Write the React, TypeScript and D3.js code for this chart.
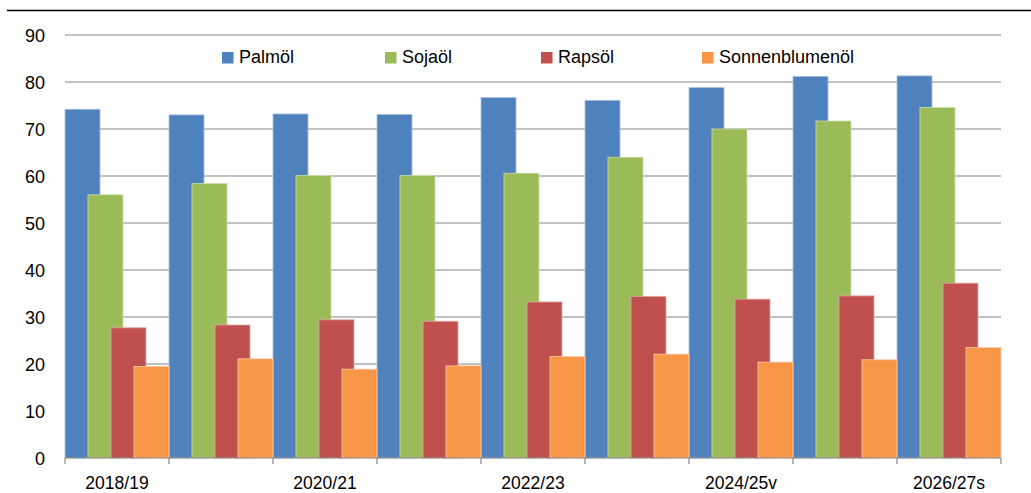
import React, { useRef, useEffect } from 'react';
import * as d3 from 'd3';

const categories = ['2018/19', '2019/20', '2020/21', '2021/22', '2022/23', '2023/24', '2024/25v', '2025/26v', '2026/27s'];
const shownLabels = ['2018/19', '2020/21', '2022/23', '2024/25v', '2026/27s'];
const seriesNames = ['Palmöl', 'Sojaöl', 'Rapsöl', 'Sonnenblumenöl'];
const palmoel = [74.2, 73.0, 73.2, 73.1, 76.7, 76.1, 78.8, 81.2, 81.3];
const sojaoel = [56.0, 58.4, 60.1, 60.1, 60.6, 64.0, 70.0, 71.7, 74.6];
const rapsoel = [27.7, 28.3, 29.4, 29.1, 33.2, 34.4, 33.8, 34.5, 37.2];
const sonnenblumenoel = [19.5, 21.1, 18.9, 19.6, 21.6, 22.1, 20.4, 20.9, 23.5];
const yTicks = [0, 10, 20, 30, 40, 50, 60, 70, 80, 90];
const colors = ['#4F81BD', '#9BBB59', '#C0504D', '#F79646'];
const strokes = ['#A7C0DE', '#CDDDAC', '#E0A8A6', '#FBCBA3'];

const App = () => {
  const chartRef = useRef(null);

  useEffect(() => {
    document.body.style.margin = '0';
    const svg = d3.select(chartRef.current);
    svg.selectAll('*').remove();
    const font = 'Liberation Sans, Arial, sans-serif';
    const fs = 18;
    const left = 65, right = 1001, top = 35, bottom = 458;

    const x = d3.scaleBand().domain(categories).range([left, right]).padding(0);
    const bw = x.bandwidth();
    const inner = d3.scalePoint().domain(seriesNames).range([0, bw * 69 / 104]);
    const barW = bw * 35 / 104;
    const y = d3.scaleLinear().domain([0, 90]).range([bottom, top]);

    // top rule
    svg.append('line')
      .attr('x1', 7).attr('x2', 1031).attr('y1', 10.5).attr('y2', 10.5)
      .attr('stroke', '#000').attr('stroke-width', 1.5);

    // grid
    svg.append('g').selectAll('line')
      .data(yTicks.filter(d => d > 0))
      .enter().append('line')
      .attr('x1', left).attr('x2', right)
      .attr('y1', d => y(d)).attr('y2', d => y(d))
      .attr('stroke', '#868686').attr('stroke-width', 1.2);

    // y labels
    svg.append('g').selectAll('text')
      .data(yTicks)
      .enter().append('text')
      .attr('x', 45).attr('y', d => y(d) + 6.5)
      .attr('text-anchor', 'end')
      .attr('font-family', font).attr('font-size', fs)
      .attr('fill', '#000')
      .text(d => d);

    const series = [palmoel, sojaoel, rapsoel, sonnenblumenoel];
    series.forEach((vals, si) => {
      svg.append('g').selectAll('rect')
        .data(vals)
        .enter().append('rect')
        .attr('x', (d, i) => x(categories[i]) + inner(seriesNames[si]))
        .attr('y', d => y(d))
        .attr('width', barW)
        .attr('height', d => bottom - y(d))
        .attr('fill', colors[si])
        .attr('stroke', strokes[si])
        .attr('stroke-width', 0.8);
    });

    // x axis
    svg.append('line')
      .attr('x1', left).attr('x2', right).attr('y1', bottom).attr('y2', bottom)
      .attr('stroke', '#868686').attr('stroke-width', 1.2);
    const bounds = categories.map(c => x(c)).concat([right]);
    svg.append('g').selectAll('line')
      .data(bounds)
      .enter().append('line')
      .attr('x1', d => d).attr('x2', d => d)
      .attr('y1', bottom).attr('y2', bottom + 6)
      .attr('stroke', '#868686').attr('stroke-width', 1.2);
    svg.append('g').selectAll('text')
      .data(shownLabels)
      .enter().append('text')
      .attr('x', d => x(d) + bw / 2)
      .attr('y', 489)
      .attr('text-anchor', 'middle')
      .attr('font-family', font).attr('font-size', 17.5)
      .attr('fill', '#000')
      .text(d => d);

    // legend
    const legendX = [222, 385, 541, 702];
    const lg = svg.append('g').selectAll('g')
      .data(seriesNames)
      .enter().append('g')
      .attr('transform', (d, i) => `translate(${legendX[i]},57)`);
    lg.append('rect')
      .attr('x', 0).attr('y', -5).attr('width', 11.5).attr('height', 11.5)
      .attr('fill', (d, i) => colors[i]);
    lg.append('text')
      .attr('x', 17).attr('y', 6.3)
      .attr('font-family', font).attr('font-size', fs)
      .attr('fill', '#000')
      .text(d => d);
  }, []);

  return (
    <svg ref={chartRef} width="1031" height="493" style={{ display: 'block' }}></svg>
  );
}

export default App;
